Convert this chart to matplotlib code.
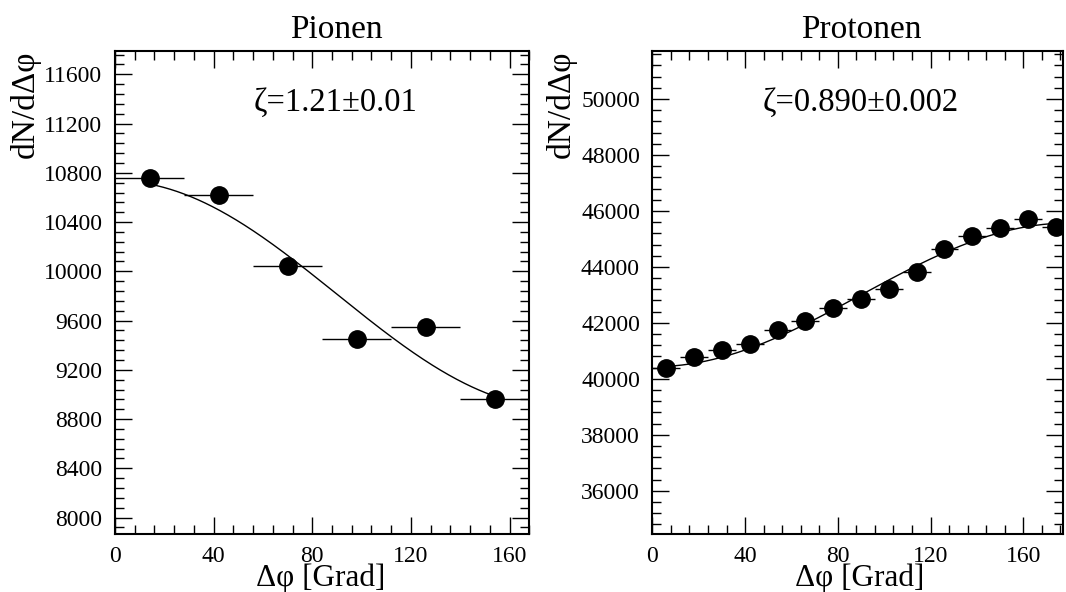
import numpy as np
import matplotlib
matplotlib.use("Agg")
import matplotlib.pyplot as plt
from matplotlib.ticker import MultipleLocator

# ---------------- data ----------------
pion_x = [14, 42, 70, 98, 126, 154]
pion_y = [10756, 10620, 10041, 9447, 9546, 8960]
pion_xerr = [14, 14, 14, 14, 14, 14]
pion_fit = {"A": 9814.0, "B": 922.0}          # A + B*cos(phi)
pion_label = "ζ=1.21±0.01"

prot_x = [6, 18, 30, 42, 54, 66, 78, 90, 102, 114, 126, 138, 150, 162, 174]
prot_y = [40405, 40787, 41027, 41232, 41759, 42060, 42539, 42838,
          43198, 43824, 44638, 45105, 45408, 45717, 45444]
prot_xerr = [6] * 15
prot_fit = {"A": 43000.0, "B": -2570.0}       # A + B*cos(phi)
prot_label = "ζ=0.890±0.002"

titles = ["Pionen", "Protonen"]
xlabel = "Δφ [Grad]"
ylabel = "dN/dΔφ"

# ---------------- style ----------------
plt.rcParams["font.family"] = ["Liberation Serif", "DejaVu Serif"]

W, H = 1066, 592
fig = plt.figure(figsize=(W / 100, H / 100), dpi=100)

def fx(px):
    return px / W

def fy(py):
    return 1 - py / H

ax1 = fig.add_axes([fx(115), fy(534.4), fx(529.3 - 115), (534.4 - 51.2) / H])
ax2 = fig.add_axes([fx(652.4), fy(534.4), fx(1062.7 - 652.4), (534.4 - 51.2) / H])

def style(ax, xmaj, xmin, ymaj, ymin):
    ax.xaxis.set_major_locator(MultipleLocator(xmaj))
    ax.xaxis.set_minor_locator(MultipleLocator(xmin))
    ax.yaxis.set_major_locator(MultipleLocator(ymaj))
    ax.yaxis.set_minor_locator(MultipleLocator(ymin))
    ax.tick_params(which="both", direction="in", top=True, right=True,
                   labelsize=17, width=1.0)
    ax.tick_params(which="major", length=12)
    ax.tick_params(which="minor", length=6.5)
    ax.tick_params(axis="x", which="major", pad=8)
    ax.tick_params(axis="y", which="major", pad=9)
    for s in ax.spines.values():
        s.set_linewidth(1.5)

def draw(ax, x, y, xerr, fit):
    ax.errorbar(x, y, xerr=xerr, fmt="o", color="black", ms=12.5,
                elinewidth=1.0, capsize=0, zorder=3)
    xx = np.linspace(x[0], x[-1], 300)
    ax.plot(xx, fit["A"] + fit["B"] * np.cos(np.radians(xx)),
            color="black", lw=1.0, zorder=2)

draw(ax1, pion_x, pion_y, pion_xerr, pion_fit)
ax1.set_xlim(0, 168)
ax1.set_ylim(7863, 11788)
style(ax1, 40, 8, 400, 80)

draw(ax2, prot_x, prot_y, prot_xerr, prot_fit)
ax2.set_xlim(0, 177)
ax2.set_ylim(34440, 51710)
style(ax2, 40, 8, 2000, 400)

# titles, annotations, axis labels in figure pixel coordinates
for cx, t, lab, ylx, xlc in [(336, titles[0], pion_label, 25, 321),
                             (861, titles[1], prot_label, 561.5, 860)]:
    fig.text(fx(cx), fy(38), t, ha="center", va="baseline", fontsize=24)
    fig.text(fx(cx), fy(111), lab, ha="center", va="baseline", fontsize=23.5)
    fig.text(fx(ylx), fy(51), ylabel, ha="center", va="top", rotation=90,
             fontsize=24)
    fig.text(fx(xlc), fy(586), xlabel, ha="center", va="baseline",
             fontsize=22.5)

fig.savefig("out.png", dpi=100)
